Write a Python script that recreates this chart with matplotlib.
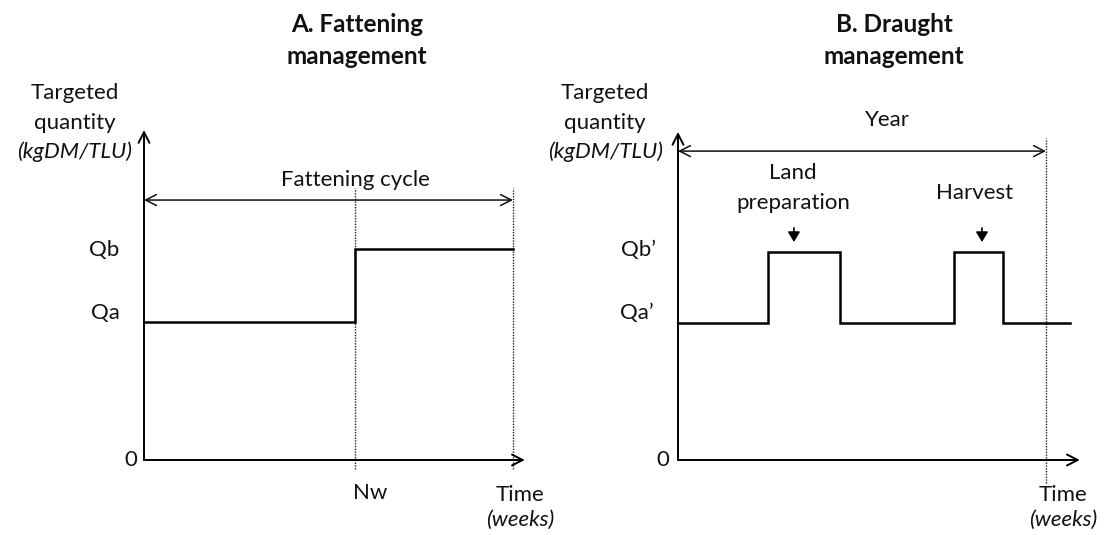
import matplotlib
matplotlib.use("Agg")
import matplotlib.pyplot as plt

plt.rcParams['font.family'] = ['Lato', 'DejaVu Sans']

# ---- data (conceptual units) ----
# Panel A: fattening management
a_times = [0.0, 0.572, 1.0]          # start, Nw, end of cycle
a_levels = [0.654, 1.0, 1.0]         # Qa until Nw, then Qb
a_nw = 0.572
a_cycle_end = 1.0
a_ticklabels = ["Qb", "Qa", "0"]

# Panel B: draught management
b_times = [0.0, 0.245, 0.440, 0.750, 0.883, 1.065]
b_levels = [0.65, 0.985, 0.65, 0.985, 0.65, 0.65]
b_year_end = 1.0
b_ticklabels = ["Qb\u2019", "Qa\u2019", "0"]
b_event_x = [0.315, 0.826]

W, H = 1105, 535
fig = plt.figure(figsize=(W / 100, H / 100), dpi=100)

ORIGIN_Y = 460   # px from top
YSCALE = 211     # px per unit


def make_axes(left_px, width_px, origin_x, xscale):
    ax = fig.add_axes([left_px / W, 0, width_px / W, 1])
    ax.set_xlim(-(origin_x - left_px) / xscale, (left_px + width_px - origin_x) / xscale)
    ax.set_ylim(-(H - ORIGIN_Y) / YSCALE, ORIGIN_Y / YSCALE)
    ax.axis('off')
    return ax


axA = make_axes(0, 552.5, 144, 369)
axB = make_axes(552.5, 552.5, 678, 368)

BODY = 16
TITLE = 17.5
TXT = "#111111"
axis_style = dict(arrowstyle="->,head_length=0.55,head_width=0.28", lw=1.4,
                  color="black", shrinkA=0, shrinkB=0, mutation_scale=14)
dbl_style = dict(arrowstyle="<->,head_length=0.55,head_width=0.28", lw=1.1,
                 color="#111111", shrinkA=0, shrinkB=0, mutation_scale=14)
dot_kw = dict(color="#222222", lw=1.0, linestyle=(0, (1, 1)))


def txt(ax, x, y, s, **kw):
    kw.setdefault("fontsize", BODY)
    kw.setdefault("ha", "center")
    ax.text(x, y, s, va="center", color=TXT, **kw)


def axes_arrows(ax, ytop, xend):
    ax.annotate("", xy=(0, ytop), xytext=(0, 0), arrowprops=axis_style)
    ax.annotate("", xy=(xend, 0), xytext=(0, 0), arrowprops=axis_style)


def ylabel(ax, x):
    txt(ax, x, 1.739, "Targeted")
    txt(ax, x, 1.597, "quantity")
    txt(ax, x, 1.460, "(kgDM/TLU)", style="italic")


def time_label(ax, x):
    txt(ax, x, -0.166, "Time")
    txt(ax, x, -0.284, "(weeks)", style="italic")


# ---------------- Panel A ----------------
ax = axA
txt(ax, 0.577, 1.986 + 0.076, "A. Fattening", fontsize=TITLE, fontweight="bold")
txt(ax, 0.577, 1.986 - 0.076, "management", fontsize=TITLE, fontweight="bold")
ylabel(ax, -0.187)
axes_arrows(ax, 1.564, 1.032)
ax.plot([a_nw, a_nw], [-0.043, 1.289], **dot_kw)
ax.plot([a_cycle_end, a_cycle_end], [-0.043, 1.289], **dot_kw)
ax.step(a_times, a_levels, where="post", color="black", lw=1.8, solid_joinstyle="miter")
ax.annotate("", xy=(a_cycle_end, 1.232), xytext=(0, 1.232), arrowprops=dbl_style)
txt(ax, 0.572, 1.327, "Fattening cycle")
txt(ax, -0.068, 0.995, a_ticklabels[0], ha="right")
txt(ax, -0.065, 0.697, a_ticklabels[1], ha="right")
txt(ax, -0.019, 0.0, a_ticklabels[2], ha="right")
txt(ax, 0.612, -0.156, "Nw")
time_label(ax, 1.019)

# ---------------- Panel B ----------------
ax = axB
txt(ax, 0.587, 1.986 + 0.076, "B. Draught", fontsize=TITLE, fontweight="bold")
txt(ax, 0.587, 1.986 - 0.076, "management", fontsize=TITLE, fontweight="bold")
ylabel(ax, -0.198)
axes_arrows(ax, 1.555, 1.092)
ax.plot([b_year_end, b_year_end], [-0.109, 1.526], **dot_kw)
ax.step(b_times, b_levels, where="post", color="black", lw=1.8, solid_joinstyle="miter")
ax.annotate("", xy=(b_year_end, 1.464), xytext=(0, 1.464), arrowprops=dbl_style)
txt(ax, 0.568, 1.611, "Year")
txt(ax, 0.3125, 1.360, "Land")
txt(ax, 0.3125, 1.218, "preparation")
txt(ax, 0.807, 1.265, "Harvest")
for ex in b_event_x:
    ax.annotate("", xy=(ex, 1.033), xytext=(ex, 1.10),
                arrowprops=dict(arrowstyle="-|>,head_length=0.5,head_width=0.3", lw=1.2,
                                color="black", shrinkA=0, shrinkB=0, mutation_scale=12))
txt(ax, -0.060, 0.995, b_ticklabels[0], ha="right")
txt(ax, -0.065, 0.697, b_ticklabels[1], ha="right")
txt(ax, -0.024, 0.0, b_ticklabels[2], ha="right")
time_label(ax, 1.046)

fig.savefig("out.png", dpi=100)
